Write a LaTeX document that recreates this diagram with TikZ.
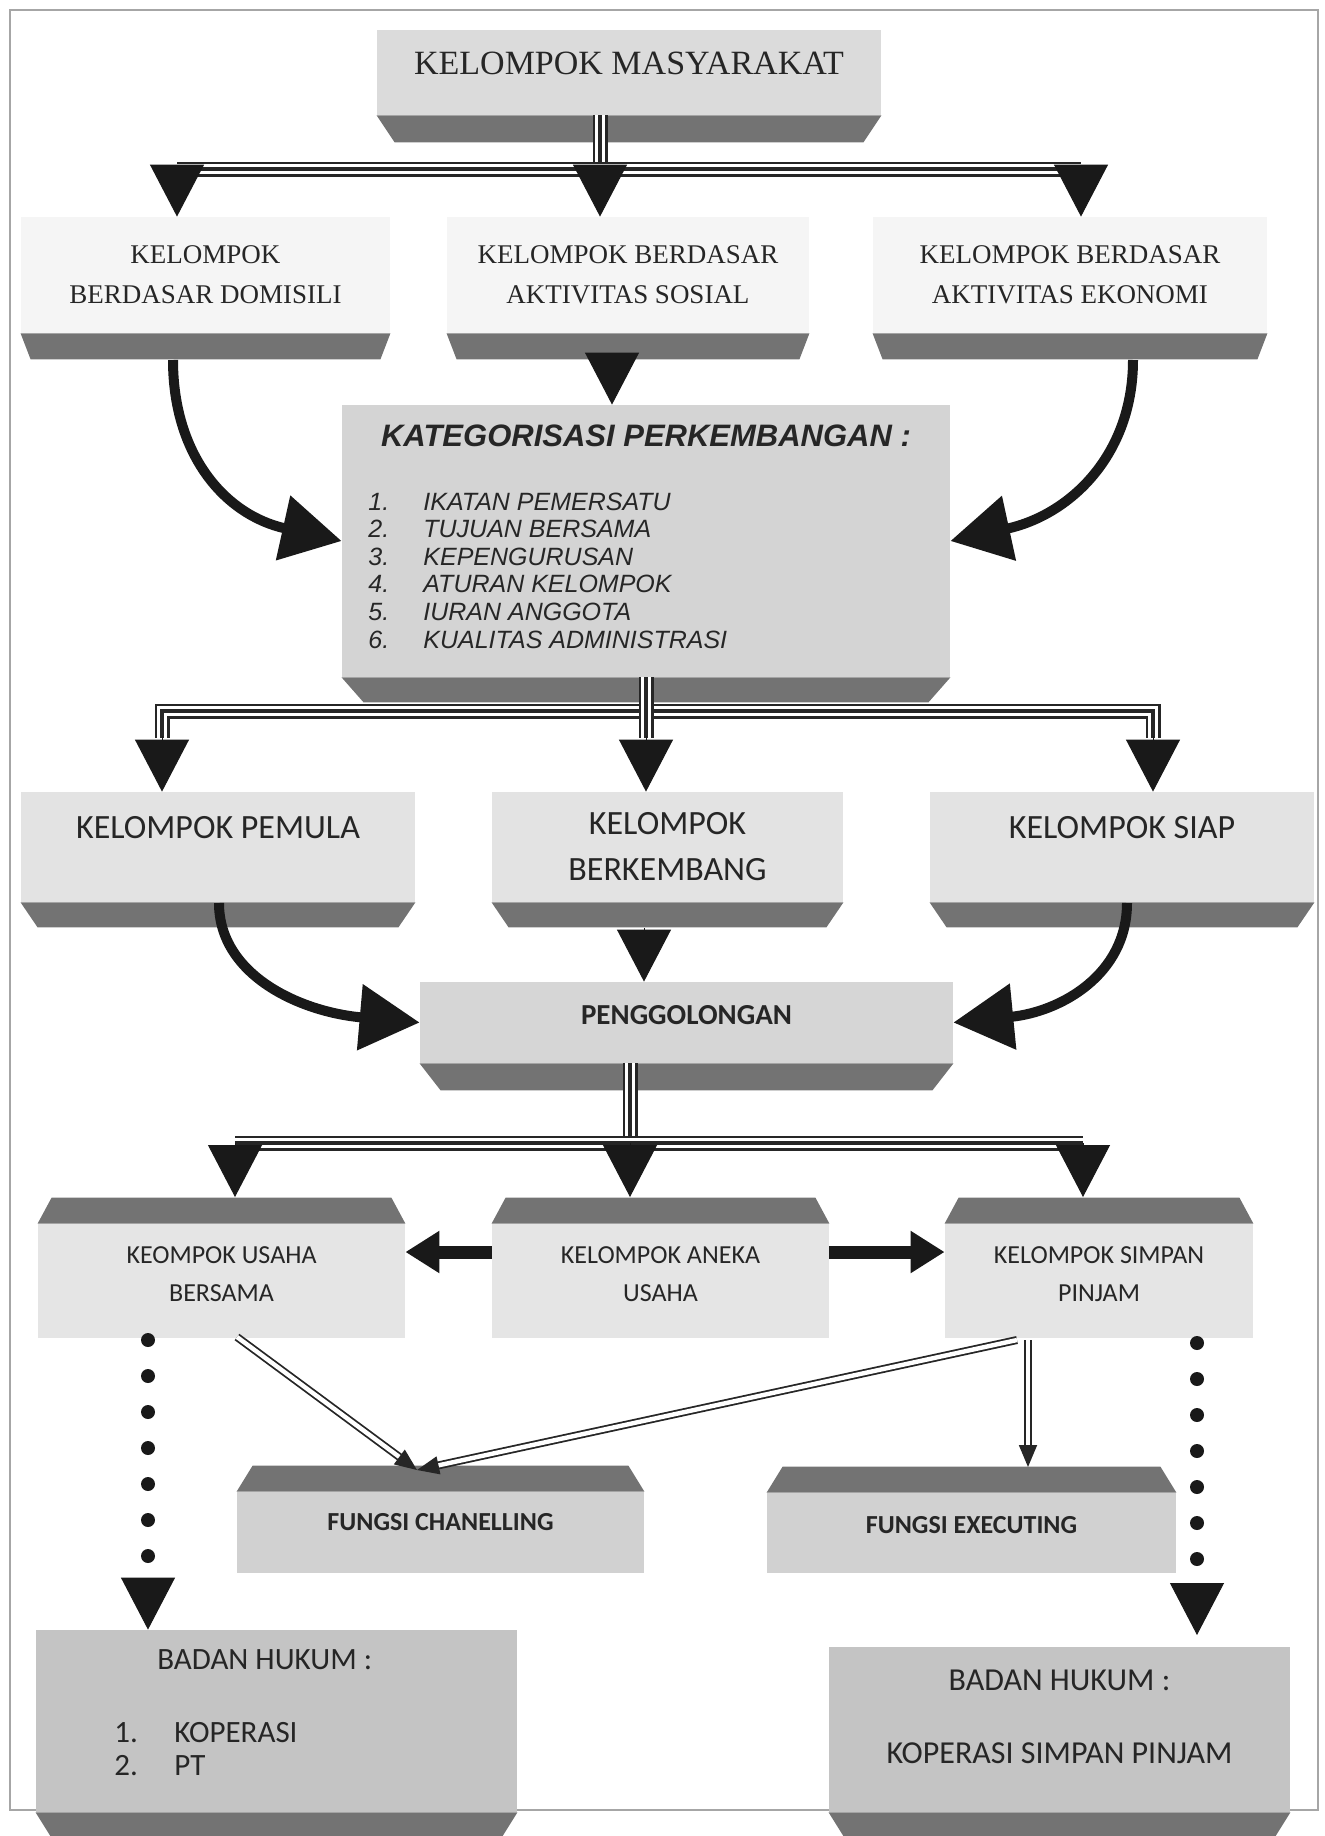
\documentclass[tikz,border=0pt]{standalone}
\usepackage{fontspec}
\setmainfont{Liberation Serif}
\newfontfamily\arialfont{Liberation Sans}
\newfontfamily\calfont{Carlito}
\usetikzlibrary{arrows.meta, calc}

\tikzset{
	face/.style={rectangle, inner sep=0pt, text=black!85},
	band/.style={fill=black!55},
	serifa/.style={face, font={\fontsize{17}{20}\selectfont}},
	serifb/.style={face, align=center, font={\fontsize{13.5}{20}\selectfont}},
	calbig/.style={face, align=center, font={\calfont\fontsize{17}{23}\selectfont}},
	calmid/.style={face, align=center, text depth=7pt, font={\calfont\fontsize{13}{19}\selectfont}},
	calbold/.style={face, font={\calfont\bfseries\fontsize{13}{16}\selectfont}},
	tripleline/.style={line width=7.5pt, draw=black!85, postaction={draw=white, line width=5pt}, postaction={draw=black!85, line width=2pt}},
	droptip/.style={line width=0.5pt, draw=black!90, -{Triangle[length=26pt, width=27pt]}},
	curvearrow/.style={line width=5pt, draw=black!90, -{Triangle[length=30pt, width=32pt]}},
	blockarrow/.style={line width=6.5pt, draw=black!90, -{Triangle[length=17pt, width=20pt]}},
	thinarrow/.style={line width=0.9pt, draw=black!85, double=white, double distance=2.2pt, -{Triangle[length=11pt, width=9pt]}},
	dotline/.style={line width=7pt, draw=black!90, line cap=round, dash pattern=on 0pt off 18pt}
}

\newcommand{\bandbelow}[3]{%
	\fill[band] (#1.south west) -- (#1.south east) -- ($(#1.south east)+(-#3,#2)$) -- ($(#1.south west)+(#3,#2)$) -- cycle;}
\newcommand{\bandabove}[3]{%
	\fill[band] (#1.north west) -- (#1.north east) -- ($(#1.north east)+(-#3,-#2)$) -- ($(#1.north west)+(#3,-#2)$) -- cycle;}

\begin{document}
\begin{tikzpicture}[x=0.5pt, y=-0.5pt]
	\useasboundingbox (0,0) rectangle (1324,1836);
	\draw[black!35, line width=0.7pt] (10,10) rectangle (1318,1810);
	\node[serifa, fill=black!14, minimum width=252pt, minimum height=42.5pt, text depth=9.5pt] (masy) at (629,72.5) {KELOMPOK MASYARAKAT};
	\node[serifb, fill=black!4, minimum width=184.5pt, minimum height=58pt] (dom) at (205.5,275) {KELOMPOK\\BERDASAR DOMISILI};
	\node[serifb, fill=black!4, minimum width=181pt, minimum height=58pt] (sos) at (628,275) {KELOMPOK BERDASAR\\AKTIVITAS SOSIAL};
	\node[serifb, fill=black!4, minimum width=197pt, minimum height=58pt] (eko) at (1070,275) {KELOMPOK BERDASAR\\AKTIVITAS EKONOMI};
	\node[face, fill=black!17, minimum width=304pt, minimum height=136pt] (kat) at (646,541) {};
	\node[anchor=base, font={\arialfont\bfseries\itshape\fontsize{15.5}{18}\selectfont}, text=black!85] (kattitle) at (646,446) {KATEGORISASI PERKEMBANGAN :};
	\node[anchor=base west, inner sep=0pt, font={\arialfont\itshape\fontsize{12.5}{13.8}\selectfont}, text=black!85] (katlist) at (368,510) {\begin{tabular}[t]{@{}p{27.5pt}@{}l@{}}
		1. & IKATAN PEMERSATU\\
		2. & TUJUAN BERSAMA\\
		3. & KEPENGURUSAN\\
		4. & ATURAN KELOMPOK\\
		5. & IURAN ANGGOTA\\
		6. & KUALITAS ADMINISTRASI
	\end{tabular}};
	\node[calbig, fill=black!11, minimum width=197pt, minimum height=55pt, text depth=20pt] (pem) at (218,847) {KELOMPOK PEMULA};
	\node[calbig, fill=black!11, minimum width=175.5pt, minimum height=55pt] (berk) at (667.5,847) {KELOMPOK\\BERKEMBANG};
	\node[calbig, fill=black!11, minimum width=192pt, minimum height=55pt, text depth=20pt] (siap) at (1122,847) {KELOMPOK SIAP};
	\node[face, font={\calfont\bfseries\fontsize{14.5}{16}\selectfont}, fill=black!16, minimum width=266.5pt, minimum height=40.5pt, text depth=7.5pt] (peng) at (686.5,1022.5) {PENGGOLONGAN};
	\node[calmid, fill=black!10, minimum width=183.5pt, minimum height=57pt] (usb) at (221.5,1281) {KEOMPOK USAHA\\BERSAMA};
	\node[calmid, fill=black!10, minimum width=168.5pt, minimum height=57pt] (ane) at (660.5,1281) {KELOMPOK ANEKA\\USAHA};
	\node[calmid, fill=black!10, minimum width=154pt, minimum height=57pt] (ssp) at (1099,1281) {KELOMPOK SIMPAN\\PINJAM};
	\node[calbold, fill=black!18, minimum width=203.5pt, minimum height=40.5pt, text depth=10.5pt] (fch) at (440.5,1532.5) {FUNGSI CHANELLING};
	\node[calbold, fill=black!18, minimum width=204.5pt, minimum height=40pt, text depth=8pt] (fex) at (971.5,1533) {FUNGSI EXECUTING};
	\node[face, fill=black!23, minimum width=240.5pt, minimum height=91pt] (bhl) at (276.5,1721) {};
	\node[anchor=west, inner sep=0pt, font={\calfont\fontsize{15.5}{16}\selectfont}, text=black!85] (bhltitle) at (157,1660) {BADAN HUKUM :};
	\node[anchor=base west, inner sep=0pt, font={\calfont\fontsize{15.5}{16.5}\selectfont}, text=black!85] (bhllist) at (114,1742) {\begin{tabular}[t]{@{}p{30pt}@{}l@{}}
		1. & KOPERASI\\
		2. & PT
	\end{tabular}};
	\node[face, align=center, font={\calfont\fontsize{16}{36.5}\selectfont}, fill=black!23, minimum width=230.5pt, minimum height=82.5pt, text depth=13pt] (bhr) at (1059.5,1729.5) {BADAN HUKUM :\\KOPERASI SIMPAN PINJAM};
	\bandbelow{masy}{27}{18}
	\foreach \b in {dom,sos,eko} {\bandbelow{\b}{26}{10}}
	\bandbelow{kat}{25}{22}
	\foreach \b in {pem,berk,siap} {\bandbelow{\b}{25}{17}}
	\bandbelow{peng}{27}{21}
	\foreach \b in {usb,ane,ssp} {\bandabove{\b}{26}{14}}
	\foreach \b in {fch,fex} {\bandabove{\b}{26}{16}}
	\foreach \b in {bhl,bhr} {\bandbelow{\b}{24}{15}}
	\coordinate (m0) at (600,115);
	\coordinate (m1) at (177,169);
	\coordinate (m2) at (1081,169);
	\draw[tripleline] (m0) -- (m0 |- m1);
	\draw[tripleline] (m1) -- (m2);
	\draw[droptip] (m1) -- (m1 |- dom.north);
	\draw[droptip] (m0 |- m1) -- (m0 |- sos.north);
	\draw[droptip] (m2) -- (m2 |- eko.north);
	\coordinate (s0) at (612,358);
	\draw[droptip] (s0) -- (s0 |- kat.north);
	\coordinate (d0) at (173,360);
	\coordinate (e0) at (1133,360);
	\draw[curvearrow] (d0) .. controls (173,455) and (225,515) .. (kat.west);
	\draw[curvearrow] (e0) .. controls (1133,455) and (1070,515) .. (kat.east);
	\coordinate (k1) at (162,711);
	\coordinate (k2) at (1153,711);
	\draw[tripleline] ($(k1)+(0,27)$) -- (k1) -- (k2) -- ($(k2)+(0,27)$);
	\draw[tripleline] (kat.south) -- ($(kat.south)+(0,61)$);
	\draw[droptip] ($(k1)+(0,25)$) -- (k1 |- pem.north);
	\draw[droptip] ($(kat.south)+(0,59)$) -- (kat.south |- berk.north);
	\draw[droptip] ($(k2)+(0,25)$) -- (k2 |- siap.north);
	\coordinate (p0) at (219,903);
	\coordinate (q0) at (1127,903);
	\coordinate (b0) at (644,928);
	\draw[curvearrow] (p0) .. controls (219,975) and (300,1012) .. (peng.west);
	\draw[curvearrow] (q0) .. controls (1127,975) and (1060,1012) .. (peng.east);
	\draw[droptip] (b0) -- (b0 |- peng.north);
	\coordinate (g0) at (630,1063);
	\coordinate (g1) at (235,1143);
	\coordinate (g2) at (1083,1143);
	\coordinate (gt) at (0,1197);
	\draw[tripleline] (g0) -- (g0 |- g1);
	\draw[tripleline] (g1) -- (g2);
	\draw[droptip] (g1) -- (g1 |- gt);
	\draw[droptip] (g0 |- g1) -- (g0 |- gt);
	\draw[droptip] (g2) -- (g2 |- gt);
	\coordinate (a0) at (0,1252);
	\draw[blockarrow] (ane.west |- a0) -- (usb.east |- a0);
	\draw[blockarrow] (ane.east |- a0) -- (ssp.west |- a0);
	\coordinate (u1) at (237,1337);
	\coordinate (s1) at (1017,1340);
	\coordinate (s2) at (1028,1340);
	\coordinate (c1) at (417,1470);
	\coordinate (ft) at (0,1467);
	\draw[thinarrow] (u1) -- (c1);
	\draw[thinarrow] (s1) -- (c1);
	\draw[thinarrow] (s2) -- (s2 |- ft);
	\coordinate (v1) at (148,1340);
	\coordinate (v2) at (1197,1343);
	\draw[dotline] (v1) -- ++(0,216);
	\draw[dotline] (v2) -- ++(0,216);
	\draw[droptip] ($(v1)+(0,240)$) -- (v1 |- bhl.north);
	\draw[droptip] ($(v2)+(0,245)$) -- ($(v2)+(0,292)$);
\end{tikzpicture}
\end{document}
